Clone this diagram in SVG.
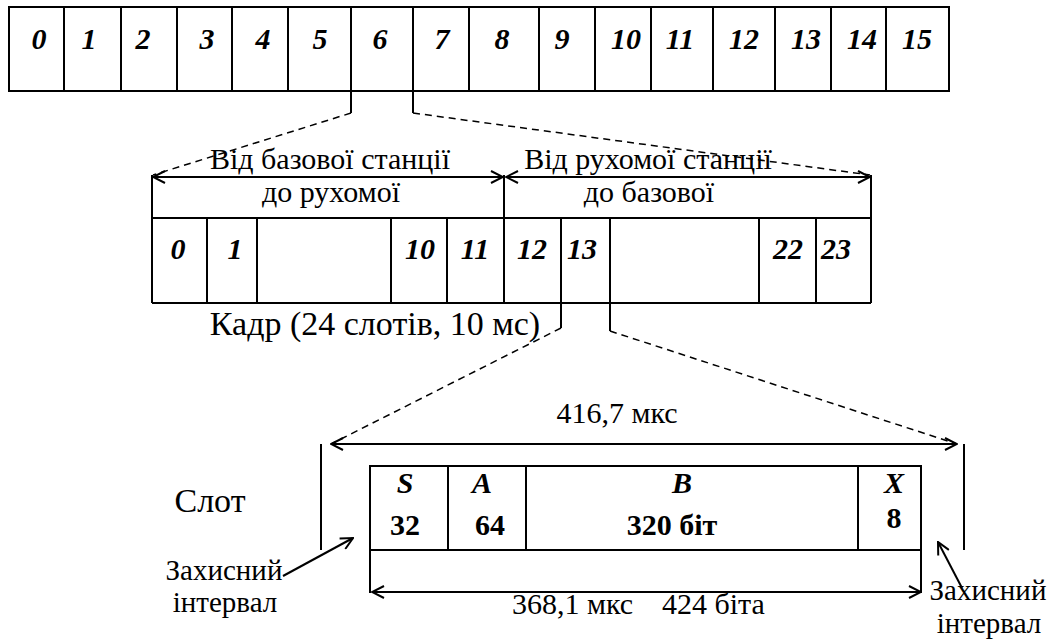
<svg xmlns="http://www.w3.org/2000/svg" width="1053" height="643" viewBox="0 0 1053 643">
<defs>
<style>
.ln{stroke:#000;stroke-width:2;fill:none}
.dash{stroke:#000;stroke-width:1.5;stroke-dasharray:7 5;fill:none}
text{font-family:'Liberation Serif','Times New Roman',Times,'DejaVu Serif',serif;fill:#000;text-anchor:middle}
.bi{font-weight:bold;font-style:italic;font-size:30px}
.b{font-weight:bold;font-size:30px}
.t{font-size:30px}
.s{font-size:29px}
</style>
<marker id="ah" viewBox="0 0 14 14" refX="13" refY="7" markerWidth="14" markerHeight="14" orient="auto-start-reverse" markerUnits="userSpaceOnUse">
<path d="M1,1 L13,7 L1,13" fill="none" stroke="#000" stroke-width="2"/>
</marker>
</defs>
<rect width="1053" height="643" fill="#fff"/>

<g id="superframe">
<rect x="9" y="7" width="940" height="84" class="ln"/>
<path class="ln" d="M64,7V91M121,7V91M177,7V91M232,7V91M288,7V91M351,7V91M413,7V91M469,7V91M539,7V91M595,7V91M651,7V91M713,7V91M775,7V91M831,7V91M886,7V91"/>
<g class="bi">
<text x="39" y="49">0</text><text x="89" y="49">1</text><text x="143" y="49">2</text><text x="207" y="49">3</text>
<text x="263" y="49">4</text><text x="320" y="49">5</text><text x="380" y="49">6</text><text x="442" y="49">7</text>
<text x="502" y="49">8</text><text x="562" y="49">9</text><text x="626" y="49">10</text><text x="680" y="49">11</text>
<text x="744" y="49">12</text><text x="806" y="49">13</text><text x="862" y="49">14</text><text x="917" y="49">15</text>
</g>
</g>

<g id="frame">
<path class="ln" d="M152,175V303M504,175V303M871,175V303M152,218H871M152,303H871"/>
<path class="ln" d="M207,218V303M257,218V303M391,218V303M447,218V303M561,218V303M610,218V303M759,218V303M816,218V303"/>
<g class="bi">
<text x="178" y="259">0</text><text x="235" y="259">1</text><text x="420" y="259">10</text><text x="475" y="259">11</text>
<text x="532" y="259">12</text><text x="582" y="259">13</text><text x="788" y="259">22</text><text x="836" y="259">23</text>
</g>
<text class="t" x="330" y="169">Від базової станції</text>
<text class="t" x="331" y="202">до рухомої</text>
<text class="t" x="648" y="169">Від рухомої станції</text>
<text class="t" x="649" y="202">до базової</text>
<text class="t" x="375" y="335" style="font-size:34px">Кадр (24 слотів, 10 мс)</text>
</g>

<g id="slot">
<rect x="370" y="466" width="551" height="84" class="ln"/>
<path class="ln" d="M448,466V550M526,466V550M858,466V550M370,550V593M921,550V593M321,444V550M964,444V550"/>
<g class="bi">
<text x="405" y="493">S</text><text x="482" y="493">A</text><text x="682" y="493">B</text><text x="894" y="493">X</text>
</g>
<g class="b">
<text x="405" y="535">32</text><text x="490" y="535">64</text><text x="672" y="535">320 біт</text><text x="894" y="528">8</text>
</g>
<text class="t" x="617" y="423">416,7 мкс</text>
<text class="t" x="210" y="512" style="font-size:34px">Слот</text>
<text class="t" x="512" y="614" style="text-anchor:start">368,1 мкс<tspan x="662">424 біта</tspan></text>
<text class="s" x="224" y="580">Захисний</text>
<text class="s" x="225" y="612">інтервал</text>
<text class="s" x="988" y="600">Захисний</text>
<text class="s" x="989" y="633">інтервал</text>
</g>

<g id="connectors">
<path class="ln" d="M351,91V113M413,91V113M561,303V328M610,303V331"/>
<path class="dash" d="M351,113L153,175M413,113L870,175M561,328L331,444M610,331L957,444"/>
<line class="ln" x1="153" y1="177" x2="503" y2="177" marker-start="url(#ah)" marker-end="url(#ah)"/>
<line class="ln" x1="506" y1="177" x2="870" y2="177" marker-start="url(#ah)" marker-end="url(#ah)"/>
<line class="ln" x1="331" y1="444" x2="957" y2="444" marker-start="url(#ah)" marker-end="url(#ah)"/>
<line class="ln" x1="372" y1="592" x2="921" y2="592" marker-start="url(#ah)" marker-end="url(#ah)"/>
<line class="ln" x1="283" y1="576" x2="353" y2="538" marker-end="url(#ah)"/>
<line class="ln" x1="962" y1="588" x2="938" y2="542" marker-end="url(#ah)"/>
</g>
</svg>
